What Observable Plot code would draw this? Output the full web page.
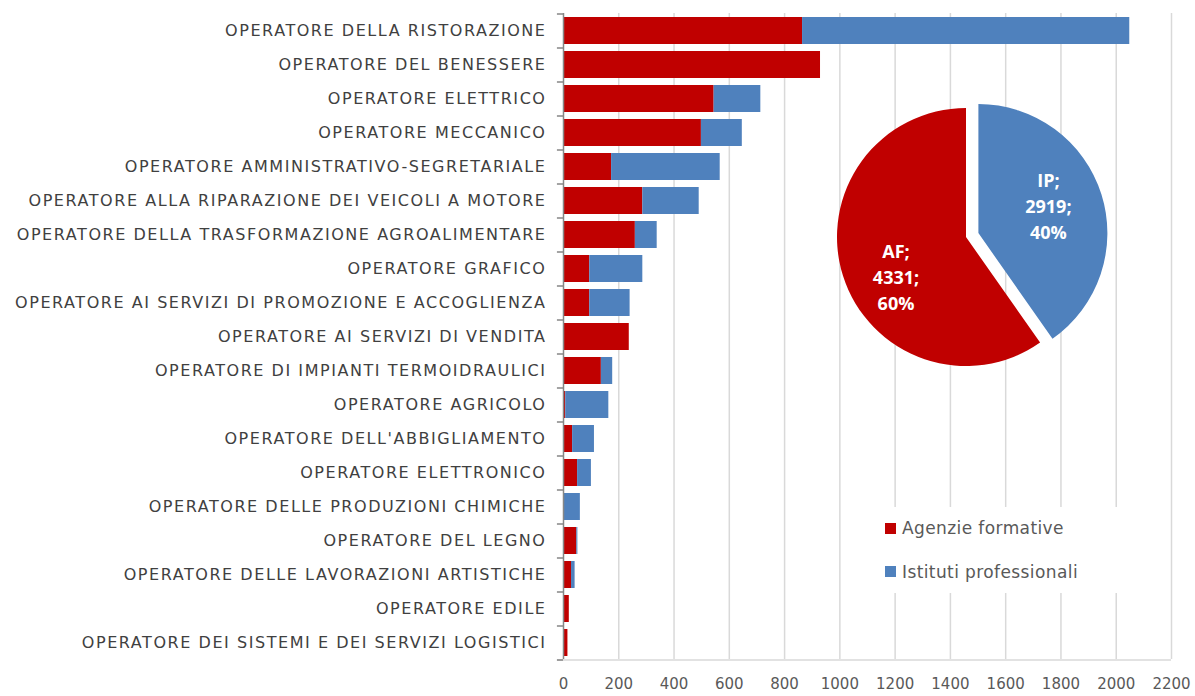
<!DOCTYPE html>
<html><head><meta charset="utf-8">
<script src="https://cdn.jsdelivr.net/npm/d3@7"></script>
<script src="https://cdn.jsdelivr.net/npm/@observablehq/plot@0.6"></script>
<style>
body{margin:0;background:#fff;}
#wrap{position:relative;width:1195px;height:696px;overflow:hidden;}
#legend{position:absolute;left:875px;top:507px;width:265px;height:86px;background:#fff;font-family:"DejaVu Sans",sans-serif;font-size:17px;letter-spacing:0.4px;color:#595959;}
.li{position:absolute;left:10px;height:20px;display:flex;align-items:center;white-space:nowrap;}
.sw{width:11px;height:11px;margin-right:6px;flex:none;}
</style></head>
<body><div id="wrap"></div>
<script>
const categories = [
  "OPERATORE DELLA RISTORAZIONE",
  "OPERATORE DEL BENESSERE",
  "OPERATORE ELETTRICO",
  "OPERATORE MECCANICO",
  "OPERATORE AMMINISTRATIVO-SEGRETARIALE",
  "OPERATORE ALLA RIPARAZIONE DEI VEICOLI A MOTORE",
  "OPERATORE DELLA TRASFORMAZIONE AGROALIMENTARE",
  "OPERATORE GRAFICO",
  "OPERATORE AI SERVIZI DI PROMOZIONE E ACCOGLIENZA",
  "OPERATORE AI SERVIZI DI VENDITA",
  "OPERATORE DI IMPIANTI TERMOIDRAULICI",
  "OPERATORE AGRICOLO",
  "OPERATORE DELL'ABBIGLIAMENTO",
  "OPERATORE ELETTRONICO",
  "OPERATORE DELLE PRODUZIONI CHIMICHE",
  "OPERATORE DEL LEGNO",
  "OPERATORE DELLE LAVORAZIONI ARTISTICHE",
  "OPERATORE EDILE",
  "OPERATORE DEI SISTEMI E DEI SERVIZI LOGISTICI"
];
const agenzieFormative = [865, 930, 545, 499, 174, 287, 260, 95, 95, 238, 137, 8, 33, 51, 0, 48, 29, 21, 16];
const istitutiProfessionali = [1184, 0, 169, 148, 393, 204, 79, 192, 146, 0, 41, 156, 79, 50, 61, 4, 13, 0, 0];
const seriesNames = ["Agenzie formative", "Istituti professionali"];
const seriesColors = ["#C00000", "#4F81BD"];
const xTicks = [0, 200, 400, 600, 800, 1000, 1200, 1400, 1600, 1800, 2000, 2200];
const pieLabels = ["IP", "AF"];
const pieValues = [2919, 4331];
const pieColors = ["#4F81BD", "#C00000"];

const rows = [];
seriesNames.forEach((s, si) => {
  const vals = si === 0 ? agenzieFormative : istitutiProfessionali;
  categories.forEach((c, i) => rows.push({cat: c, series: s, value: vals[i]}));
});

const W = 1195, H = 696;
const mTop = 13, mBottom = 37, mLeft = 563, mRight = 24;
const step = (H - mTop - mBottom) / categories.length;
const font = '"DejaVu Sans", sans-serif';

function pieMark(index, scales, values, dim) {
  const cx = 966, cy = 237, R = 129, explode = 13;
  const total = d3.sum(pieValues);
  const arcs = d3.pie().sort(null).value(d => d)(pieValues);
  const arc = d3.arc().innerRadius(0).outerRadius(R);
  const g = d3.create("svg:g");
  const labelOffsets = [[70, -26], [-70, 41]];
  arcs.forEach((a, i) => {
    const mid = (a.startAngle + a.endAngle) / 2;
    const ex = i === 0 ? explode : 0;
    const ox = cx + ex * Math.sin(mid), oy = cy - ex * Math.cos(mid);
    g.append("path").attr("d", arc(a)).attr("fill", pieColors[i])
      .attr("transform", `translate(${ox},${oy})`);
    const t = g.append("text")
      .attr("text-anchor", "middle")
      .attr("fill", "#fff")
      .attr("font-family", '"Open Sans", sans-serif')
      .attr("font-weight", "bold")
      .attr("font-size", 18)
      .attr("transform", `translate(${ox + labelOffsets[i][0]},${oy + labelOffsets[i][1]})`);
    const pct = Math.round(pieValues[i] / total * 100);
    [`${pieLabels[i]};`, `${pieValues[i]};`, `${pct}%`].forEach((line, k) => {
      t.append("tspan").attr("x", 0).attr("y", (k - 1) * 26).attr("dy", "0.35em").text(line);
    });
  });
  return g.node();
}

const chart = Plot.plot({
  width: W, height: H,
  marginTop: mTop, marginBottom: mBottom, marginLeft: mLeft, marginRight: mRight,
  style: {fontFamily: font, fontSize: "15px", color: "#404040", background: "#fff"},
  x: {domain: [0, 2200], ticks: xTicks, tickFormat: d3.format("d"), tickSize: 0, tickPadding: 19, label: null},
  y: {domain: categories, paddingInner: 0.215, paddingOuter: 0.1075, tickSize: 0, tickPadding: 17, label: null},
  color: {domain: seriesNames, range: seriesColors},
  marks: [
    Plot.ruleX(xTicks.slice(1), {x: d => d, stroke: "#d9d9d9", strokeWidth: 1.5}),
    Plot.ruleY([categories[categories.length - 1]], {y: d => d, dy: step / 2, x1: -22, x2: 2200, stroke: "#d9d9d9", strokeWidth: 1.5}),
    Plot.barX(rows, Plot.stackX({x: "value", y: "cat", fill: "series", order: null})),
    pieMark,
    Plot.ruleY(categories, {y: d => d, dy: -step / 2, x1: -22, x2: 0, stroke: "#868686", strokeWidth: 1.5}),
    Plot.ruleY([categories[categories.length - 1]], {y: d => d, dy: step / 2, x1: -22, x2: 0, stroke: "#868686", strokeWidth: 1.5}),
    Plot.ruleX([0], {stroke: "#868686", strokeWidth: 1.5})
  ]
});

const wrap = document.getElementById("wrap");
wrap.appendChild(chart);
d3.select(chart).selectAll('[aria-label="y-axis tick label"] text, [aria-label="y-axis"] text')
  .attr("font-size", 16).attr("letter-spacing", "1.55px");
d3.select(chart).selectAll('[aria-label="x-axis tick label"] text, [aria-label="x-axis"] text')
  .attr("fill", "#595959");

const legend = document.createElement("div");
legend.id = "legend";
seriesNames.forEach((s, i) => {
  const it = document.createElement("div");
  it.className = "li";
  it.style.top = (i === 0 ? 11 : 54.5) + "px";
  it.innerHTML = `<span class="sw" style="background:${seriesColors[i]}"></span><span>${s}</span>`;
  legend.appendChild(it);
});
wrap.appendChild(legend);
</script>
</body></html>
